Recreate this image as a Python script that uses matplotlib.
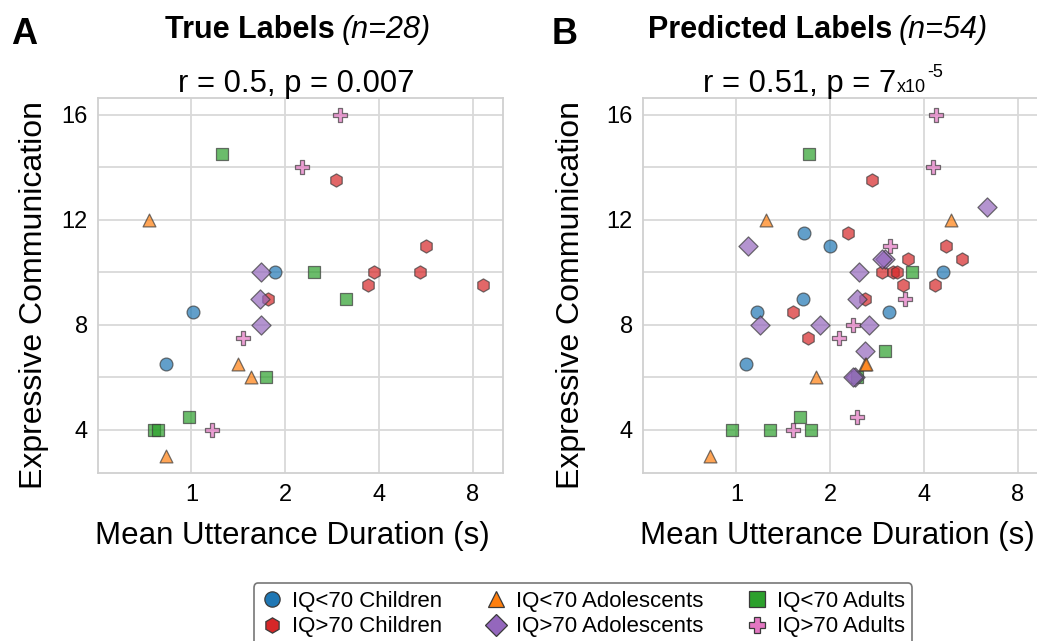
import matplotlib
matplotlib.use("Agg")
import matplotlib.pyplot as plt
import matplotlib.transforms as mtransforms
from matplotlib.lines import Line2D
from matplotlib.ticker import NullLocator

plt.rcParams["font.family"] = ["Liberation Sans", "DejaVu Sans"]

# ---- data: (mean utterance duration in s, expressive communication score)
groups = ["IQ<70 Children", "IQ>70 Children", "IQ<70 Adolescents",
          "IQ>70 Adolescents", "IQ<70 Adults", "IQ>70 Adults"]

true_x = {
    "IQ<70 Children": [1.85, 1.01, 0.83],
    "IQ>70 Children": [2.9, 5.68, 3.84, 5.42, 3.69, 8.61, 1.76],
    "IQ<70 Adolescents": [0.73, 1.41, 1.55, 0.83],
    "IQ>70 Adolescents": [1.67, 1.66, 1.67],
    "IQ<70 Adults": [1.25, 2.47, 3.14, 1.74, 0.985, 0.757, 0.778],
    "IQ>70 Adults": [3.0, 2.27, 1.46, 1.16],
}
true_y = {
    "IQ<70 Children": [10, 8.5, 6.5],
    "IQ>70 Children": [13.5, 11, 10, 10, 9.5, 9.5, 9],
    "IQ<70 Adolescents": [12, 6.5, 6, 3],
    "IQ>70 Adolescents": [10, 9, 8],
    "IQ<70 Adults": [14.5, 10, 9, 6, 4.5, 4, 4],
    "IQ>70 Adults": [16, 14, 7.5, 4],
}

pred_x = {
    "IQ<70 Children": [1.65, 2.0, 4.6, 1.64, 1.16, 3.09, 1.07],
    "IQ>70 Children": [2.72, 2.28, 4.72, 3.55, 5.29, 2.94, 3.18, 3.27, 3.42,
                       4.35, 2.59, 1.52, 1.70],
    "IQ<70 Adolescents": [1.24, 4.87, 2.58, 2.6, 1.80, 0.82],
    "IQ>70 Adolescents": [6.38, 1.09, 2.99, 2.93, 2.48, 2.44, 1.19, 1.86,
                          2.66, 2.58, 2.4, 2.37],
    "IQ<70 Adults": [1.71, 3.65, 3.0, 2.44, 1.6, 0.97, 1.28, 1.74],
    "IQ>70 Adults": [4.36, 4.27, 3.12, 3.47, 2.37, 2.13, 2.43, 1.52],
}
pred_y = {
    "IQ<70 Children": [11.5, 11, 10, 9, 8.5, 8.5, 6.5],
    "IQ>70 Children": [13.5, 11.5, 11, 10.5, 10.5, 10, 10, 10, 9.5, 9.5, 9,
                       8.5, 7.5],
    "IQ<70 Adolescents": [12, 12, 6.5, 6.5, 6, 3],
    "IQ>70 Adolescents": [12.5, 11, 10.5, 10.5, 10, 9, 8, 8, 8, 7, 6, 6],
    "IQ<70 Adults": [14.5, 10, 7, 6, 4.5, 4, 4, 4],
    "IQ>70 Adults": [16, 14, 11, 9, 8, 7.5, 4.5, 4],
}

x_ticks = [1, 2, 4, 8]
y_ticks = [4, 6, 8, 10, 12, 14, 16]
y_tick_labels = ["4", "", "8", "", "12", "", "16"]

style = {
    "IQ<70 Children": ("o", "#1f77b4", 85),
    "IQ>70 Children": ("h", "#d62728", 90),
    "IQ<70 Adolescents": ("^", "#ff7f0e", 85),
    "IQ>70 Adolescents": ("D", "#9467bd", 95),
    "IQ<70 Adults": ("s", "#2ca02c", 85),
    "IQ>70 Adults": ("P", "#e377c2", 100),
}
draw_order = ["IQ<70 Children", "IQ>70 Children", "IQ<70 Adults",
              "IQ>70 Adults", "IQ>70 Adolescents", "IQ<70 Adolescents"]

W, H = 1037, 641
fig = plt.figure(figsize=(W / 100, H / 100), dpi=100)

ax_w = 405.3 / W
ax_h = 375.6 / H
ax_b = (H - 473.3) / H
axA = fig.add_axes([97.7 / W, ax_b, ax_w, ax_h])
axB = fig.add_axes([642.7 / W, ax_b, ax_w, ax_h])


def style_axes(ax, ylab_x):
    ax.set_facecolor("white")
    ax.set_xscale("log", base=2)
    ax.set_xlim(0.5, 10)
    ax.set_ylim(2.35, 16.65)
    ax.set_xticks(x_ticks)
    ax.set_xticklabels([str(t) for t in x_ticks])
    ax.xaxis.set_minor_locator(NullLocator())
    ax.set_yticks(y_ticks)
    ax.set_yticklabels(y_tick_labels)
    ax.grid(True, color="#d9d9d9", linewidth=1.3)
    ax.set_axisbelow(True)
    for sp in ax.spines.values():
        sp.set_color("#d0d0d0")
        sp.set_linewidth(1.3)
    ax.tick_params(axis="both", length=0, labelsize=17)
    ax.tick_params(axis="x", pad=8)
    ax.tick_params(axis="y", pad=7)
    ax.set_xlabel("Mean Utterance Duration (s)", fontsize=22.5)
    ax.set_ylabel("Expressive Communication", fontsize=23)
    ax.xaxis.set_label_coords(0.48, -0.127)
    ax.yaxis.set_label_coords(ylab_x, 0.475)


def scatter_groups(ax, xs, ys):
    for g in draw_order:
        m, c, s = style[g]
        ax.scatter(xs[g], ys[g], marker=m, s=s, color=c, alpha=0.7,
                   edgecolors="#3a3a3a", linewidths=0.9, zorder=3)


scatter_groups(axA, true_x, true_y)
scatter_groups(axB, pred_x, pred_y)
style_axes(axA, -0.12)
style_axes(axB, -0.14)

# ---- text runs (title pieces with mixed styles), placed in pixel coords
renderer = fig.canvas.get_renderer()
pix = mtransforms.IdentityTransform()


def put_runs(xc, baseline, runs, gap=0):
    items = []
    for s, kw, dy in runs:
        t = fig.text(0, 0, s, transform=pix, ha="left", va="baseline", **kw)
        w = t.get_window_extent(renderer).width
        items.append((t, w, dy))
    total = sum(w for _, w, _ in items) + gap * (len(items) - 1)
    x = xc - total / 2
    for t, w, dy in items:
        t.set_position((x, H - baseline + dy))
        x += w + gap


put_runs(298, 38, [("True Labels", dict(fontsize=22, fontweight="bold"), 0),
                   ("(n=28)", dict(fontsize=22, fontstyle="italic"), 0)],
         gap=7)
put_runs(818, 38, [("Predicted Labels", dict(fontsize=22, fontweight="bold"), 0),
                   ("(n=54)", dict(fontsize=22, fontstyle="italic"), 0)],
         gap=7)
put_runs(296, 92, [("r = 0.5, p = 0.007", dict(fontsize=22.3), 0)])
put_runs(823, 92, [("r = 0.51, p = 7", dict(fontsize=22.3), 0),
                   ("x10", dict(fontsize=13), 0),
                   ("-5", dict(fontsize=13), 15)], gap=1)

fig.text(11, H - 44, "A", transform=pix, fontsize=26, fontweight="bold",
         ha="left", va="baseline")
fig.text(552, H - 44, "B", transform=pix, fontsize=26, fontweight="bold",
         ha="left", va="baseline")

# ---- legend
legend_order = ["IQ<70 Children", "IQ>70 Children", "IQ<70 Adolescents",
                "IQ>70 Adolescents", "IQ<70 Adults", "IQ>70 Adults"]
handles = []
for g in legend_order:
    m, c, s = style[g]
    handles.append(Line2D([], [], linestyle="none", marker=m, markersize=11,
                          markerfacecolor=c, markeredgecolor="#3a3a3a",
                          markeredgewidth=0.9))
leg = fig.legend(handles, legend_order, ncol=3, loc="upper center",
                 bbox_to_anchor=(583 / W, 1 - 572 / H), fontsize=16,
                 frameon=True, fancybox=True, edgecolor="#555555",
                 handletextpad=0.4, columnspacing=1.9, labelspacing=0.2,
                 borderpad=0.35, handlelength=1.0)
leg.get_frame().set_linewidth(1.2)

fig.savefig("out.png", dpi=100)
